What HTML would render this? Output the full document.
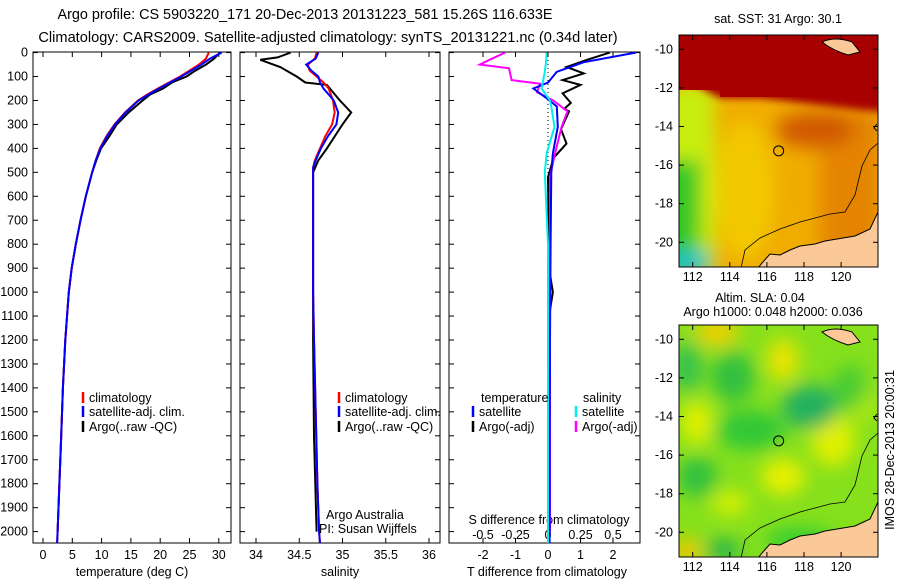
<!DOCTYPE html>
<html><head><meta charset="utf-8"><style>
body{margin:0;background:#fff;width:900px;height:580px;overflow:hidden}
svg{display:block;font-family:"Liberation Sans",sans-serif}
</style></head><body>
<svg id="c" width="900" height="580" viewBox="0 0 900 580">
<defs>
<filter id="bl" x="-50%" y="-50%" width="200%" height="200%"><feGaussianBlur stdDeviation="9"/></filter>
<filter id="bl2" x="-50%" y="-50%" width="200%" height="200%"><feGaussianBlur stdDeviation="4"/></filter>
<clipPath id="m1"><rect x="679" y="35" width="199" height="232"/></clipPath>
<clipPath id="m2"><rect x="679" y="325" width="199" height="232"/></clipPath>
<clipPath id="p1"><rect x="33" y="52" width="198" height="491"/></clipPath>
<clipPath id="p2"><rect x="240" y="52" width="200" height="491"/></clipPath>
<clipPath id="p3"><rect x="449" y="52" width="191" height="491"/></clipPath>
</defs>
<text x="305" y="19" font-size="14.4" text-anchor="middle">Argo profile: CS 5903220_171 20-Dec-2013 20131223_581 15.26S 116.633E</text>
<text x="328" y="42" font-size="14.6" text-anchor="middle">Climatology: CARS2009. Satellite-adjusted climatology: synTS_20131221.nc (0.34d later)</text>
<g id="g"></g>
</svg>
<script>
// ---- data ----
const tDepth=[0,25,50,75,100,125,150,175,200,250,300,350,400,450,500,600,700,800,900,1000,1200,1400,1600,1800,2000,2050];
const tClim=[28.3,27.8,26.6,25,23.4,21.5,19.6,17.8,16.2,14,12.2,10.8,9.7,9,8.4,7.3,6.4,5.6,4.9,4.4,3.8,3.4,3.1,2.8,2.5,2.4];
const tSat=[30.5,28.5,27,25.3,23.6,21.7,19.8,18,16.3,14.1,12.3,10.9,9.8,9,8.4,7.3,6.4,5.6,4.9,4.4,3.8,3.4,3.1,2.8,2.5,2.4];
const tArgo=[30.2,29.2,27.8,26,24.5,22,20.5,18.3,17,14.6,12.6,11.3,9.9,9.1,8.4,7.3,6.4,5.6,4.9,4.4,3.8,3.4,3.1,2.8,2.5];
const sDepth=[0,25,50,75,100,125,150,200,250,300,350,400,450,480,600,800,1000,1200,1500,1800,2000,2050];
const sClim=[34.7,34.68,34.6,34.62,34.7,34.78,34.84,34.89,34.91,34.88,34.8,34.74,34.68,34.66,34.66,34.66,34.66,34.67,34.69,34.71,34.73,34.74];
const sSat=[34.72,34.69,34.58,34.64,34.72,34.74,34.78,34.9,34.95,34.93,34.83,34.75,34.69,34.66,34.66,34.66,34.66,34.67,34.69,34.71,34.73,34.74];
const sArgoDepth=[0,20,30,60,100,125,135,200,250,300,400,450,500,800,1200,1600,2000];
const sArgo=[34.4,34.25,34.05,34.28,34.47,34.57,34.82,34.97,35.1,35.0,34.82,34.72,34.66,34.66,34.66,34.67,34.7];
const dDepth=[0,40,80,125,150,200,225,310,420,500,800,1200,1600,2000,2050];
const dTsat=[2.7,1.1,0.27,0,-0.45,0.05,0.27,0.3,0.15,0.1,0.08,0.06,0.05,0.05,0.05];
const dSsat=[-0.02,-0.03,-0.05,-0.08,-0.1,0.03,0.05,0.1,-0.02,-0.05,0,0,0,0,0];
const aDepth=[0,30,60,87,115,135,170,210,235,245,320,380,440,520,900,1000,1100,1500,2000];
const dTargo=[1.9,1.2,0.57,1.1,0.45,1.0,0.45,0.7,0.5,0.65,0.4,0.57,0.17,0,0.03,0.15,0.03,0.02,0.02];
const sDiffDepth=[0,30,50,65,115,130,165,200,245,310,430,520,1000,1500,2000];
const dSargo=[-0.66,-0.9,-1.05,-0.6,-0.56,-0.12,-0.17,0.08,0.3,0.21,0.1,0.03,0.03,0.03,0.03];
const depthTicks=[0,100,200,300,400,500,600,700,800,900,1000,1100,1200,1300,1400,1500,1600,1700,1800,1900,2000];
const tTicks=[0,5,10,15,20,25,30];
const sTicks=[34,34.5,35,35.5,36];
const dTTicks=[-2,-1,0,1,2];
const dSTicks=["-0.5","-0.25","0","0.25","0.5"];
const lonTicks=[112,114,116,118,120];
const latTicks=[-10,-12,-14,-16,-18,-20];
// ---- axes ----
const yD=d=>52.6+d*0.2395;
const xT=t=>43+5.86*t;
const xS=s=>256+86.5*(s-34);
const xDf=v=>548+32.5*v;
const xDs=v=>548+65*v;
const lonX=l=>692.7+18.55*(l-112);
const latY1=l=>49.3-19.3*(l+10);
const latY2=l=>339.3-19.3*(l+10);
const FS=12.5;
const NS='http://www.w3.org/2000/svg';
const G=document.getElementById('g');
function el(tag,attrs,parent){const e=document.createElementNS(NS,tag);for(const k in attrs)e.setAttribute(k,attrs[k]);(parent||G).appendChild(e);return e;}
function txt(x,y,s,anchor,size){const e=el('text',{x:x,y:y,'font-size':size||FS,'text-anchor':anchor||'middle'});e.textContent=s;return e;}
function line(xf,vals,depths,color,w,clip,name){
  const pts=vals.map((v,i)=>xf(v).toFixed(1)+','+yD(depths[i]).toFixed(1)).join(' ');
  const e=el('polyline',{points:pts,fill:'none',stroke:color,'stroke-width':w,'clip-path':'url(#'+clip+')'});
  
  
}
function frame(x0,x1,name){
  const r=el('rect',{x:x0,y:52,width:x1-x0,height:491,fill:'none',stroke:'#000','stroke-width':1});
  
  
  depthTicks.forEach(d=>{el('line',{x1:x0,x2:x0+5,y1:yD(d),y2:yD(d),stroke:'#000'});el('line',{x1:x1,x2:x1-5,y1:yD(d),y2:yD(d),stroke:'#000'});});
}
frame(33,231,'temperature-panel');frame(240,440,'salinity-panel');frame(449,640,'difference-panel');
depthTicks.forEach(d=>{const t=txt(28,yD(d)+4,String(d),'end');

});
tTicks.forEach(v=>{const x=xT(v);el('line',{x1:x,x2:x,y1:52,y2:57,stroke:'#000'});el('line',{x1:x,x2:x,y1:543,y2:538,stroke:'#000'});
const t=txt(x,559,String(v));

});
sTicks.forEach(v=>{const x=xS(v);el('line',{x1:x,x2:x,y1:52,y2:57,stroke:'#000'});el('line',{x1:x,x2:x,y1:543,y2:538,stroke:'#000'});
const t=txt(x,559,String(v));

});
dTTicks.forEach((v,i)=>{const x=xDf(v);el('line',{x1:x,x2:x,y1:52,y2:57,stroke:'#000'});el('line',{x1:x,x2:x,y1:543,y2:538,stroke:'#000'});
const t=txt(x,559,String(v));


const s=txt(x,539,dSTicks[i]);

});
el('line',{x1:xDf(0),x2:xDf(0),y1:52,y2:543,stroke:'#000','stroke-dasharray':'1,3'});
[[132,576,'temperature (deg C)','x-axis-title-temperature'],[340,576,'salinity','x-axis-title-salinity'],[547,576,'T difference from climatology','x-axis-title-t-difference'],[549,524,'S difference from climatology','x-axis-title-s-difference']].forEach(a=>{const t=txt(a[0],a[1],a[2]);

});
line(xT,tArgo,tDepth,'#000',2,'p1','temperature-argo-line');
line(xT,tClim,tDepth,'#f00',2,'p1','temperature-climatology-line');
line(xT,tSat,tDepth,'#00f',2,'p1','temperature-satellite-line');
line(xS,sArgo,sArgoDepth,'#000',2,'p2','salinity-argo-line');
line(xS,sClim,sDepth,'#f00',2,'p2','salinity-climatology-line');
line(xS,sSat,sDepth,'#00f',2,'p2','salinity-satellite-line');
line(xDf,dTargo,aDepth,'#000',2,'p3','t-difference-argo-line');
line(xDs,dSargo,sDiffDepth,'#f0f',2,'p3','s-difference-argo-line');
line(xDf,dTsat,dDepth,'#00f',2,'p3','t-difference-satellite-line');
line(xDs,dSsat,dDepth,'#0ee',2,'p3','s-difference-satellite-line');
function leg(x,y,c,s,name){el('line',{x1:x,x2:x,y1:y-10,y2:y+1,stroke:c,'stroke-width':2.5});const t=txt(x+6,y,s,'start');

}
leg(83,402,'#f00','climatology','legend-climatology');leg(83,416,'#00f','satellite-adj. clim.','legend-satellite');leg(83,431,'#000','Argo(..raw -QC)','legend-argo');
leg(339,402,'#f00','climatology','legend-climatology-2');leg(339,416,'#00f','satellite-adj. clim.','legend-satellite-2');leg(339,431,'#000','Argo(..raw -QC)','legend-argo-2');
{const t=txt(481,402,'temperature','start');


const u=txt(583,402,'salinity','start');

}
leg(473,416,'#00f','satellite','legend-t-satellite');leg(473,431,'#000','Argo(-adj)','legend-t-argo');
leg(576,416,'#0ee','satellite','legend-s-satellite');leg(576,431,'#f0f','Argo(-adj)','legend-s-argo');
{const a=txt(326,519,'Argo Australia','start');


const b=txt(319,533,'PI: Susan Wijffels','start');

}
// ---- maps ----
function mapAxes(y0,latY,name){
  const r=el('rect',{x:679,y:y0,width:199,height:232,fill:'none',stroke:'#000'});
  
  
  lonTicks.forEach(l=>{const x=lonX(l);el('line',{x1:x,x2:x,y1:y0,y2:y0+5,stroke:'#000'});el('line',{x1:x,x2:x,y1:y0+232,y2:y0+227,stroke:'#000'});
  const t=txt(x,y0+246,String(l),'middle');
  
  });
  latTicks.forEach(l=>{const y=latY(l);el('line',{x1:679,x2:684,y1:y,y2:y,stroke:'#000'});el('line',{x1:878,x2:873,y1:y,y2:y,stroke:'#000'});
  const t=txt(673,y+4,String(l),'end');
  
  });
}
function land(dy,clip){
  const g=el('g',{'clip-path':'url(#'+clip+')'});
  el('path',{d:`M878 ${212+dy} L870 ${229+dy} L855 ${236+dy} L825 ${241+dy} L815 ${244+dy} L800 ${246+dy} L790 ${250+dy} L780 ${255+dy} L770 ${254+dy} L762 ${263+dy} L758 ${268+dy} L880 ${268+dy}Z`,fill:'#fbc898',stroke:'#000','stroke-width':1},g);
  el('path',{d:`M822 ${42+dy} Q835 ${36+dy} 852 ${42+dy} L860 ${52+dy} L848 ${55+dy} Q832 ${50+dy} 822 ${42+dy}Z`,fill:'#fbc898',stroke:'#000'},g);
  el('polyline',{points:`741,${268+dy} 745,${250+dy} 760,${238+dy} 780,${229+dy} 800,${222+dy} 830,${214+dy} 845,${212+dy} 855,${195+dy} 862,${166+dy} 870,${150+dy} 878,${143+dy}`,fill:'none',stroke:'#000','stroke-width':0.8},g);
  el('path',{d:`M877 ${124+dy} L874 ${128+dy} L877 ${131+dy}`,fill:'none',stroke:'#000'},g);
}
{const g=el('g',{'clip-path':'url(#m1)'});


el('rect',{x:679,y:35,width:199,height:232,fill:'#f0ac00'},g);
const b=el('g',{filter:'url(#bl)'},g);
el('rect',{x:820,y:110,width:60,height:160,fill:'#e48400'},b);
el('ellipse',{cx:815,cy:130,rx:40,ry:18,fill:'#d05800'},b);
el('ellipse',{cx:745,cy:190,rx:30,ry:70,fill:'#f2c800'},b);
el('rect',{x:660,y:85,width:55,height:190,fill:'#c8ee10'},b);
el('rect',{x:655,y:160,width:45,height:120,fill:'#30c828'},b);
el('ellipse',{cx:690,cy:262,rx:22,ry:12,fill:'#20c0c8'},b);
const b2=el('g',{filter:'url(#bl2)'},g);
el('path',{d:'M670 30 L890 30 L890 112 L860 110 L820 105 L760 98 L720 98 L705 90 L690 80 L670 80Z',fill:'#a80000'},b2);
el('rect',{x:679,y:35,width:199,height:55,fill:'#a80000'},g);
el('rect',{x:720,y:35,width:160,height:62,fill:'#a80000'},g);}
land(0,'m1');
mapAxes(35,latY1,'sst-map-frame');
{const c=el('circle',{cx:lonX(116.633),cy:latY1(-15.26),r:5,fill:'none',stroke:'#000'});

}
{const t=txt(778,23,'sat. SST: 31 Argo: 30.1','middle');

}
{const g=el('g',{'clip-path':'url(#m2)'});


el('rect',{x:679,y:325,width:199,height:232,fill:'#86e01c'},g);
const b=el('g',{filter:'url(#bl)'},g);
[[717,332,22,14,'#f0d000'],[783,360,16,22,'#e8e400'],[697,423,16,22,'#e0f000'],[833,440,22,26,'#e0f000'],[783,477,22,18,'#e8f000'],[730,503,18,12,'#d8f000'],[687,552,14,14,'#f0c800'],[863,400,12,22,'#b8ec10'],[700,470,15,8,'#b0e820']].forEach(a=>el('ellipse',{cx:a[0],cy:a[1],rx:a[2],ry:a[3],fill:a[4]},b));
[[687,367,14,25,'#30c050'],[733,377,22,25,'#30c040'],[810,407,28,22,'#20b060'],[750,430,35,20,'#30c838'],[697,477,20,20,'#30c040'],[723,550,18,10,'#20b050'],[850,387,18,22,'#48cc30'],[800,540,35,12,'#30cc30']].forEach(a=>el('ellipse',{cx:a[0],cy:a[1],rx:a[2],ry:a[3],fill:a[4]},b));}
land(290,'m2');
mapAxes(325,latY2,'sla-map-frame');
{const c=el('circle',{cx:lonX(116.633),cy:latY2(-15.26),r:5,fill:'none',stroke:'#000'});

}
{const t=txt(760,302,'Altim. SLA: 0.04','middle');


const u=txt(773,316,'Argo h1000: 0.048 h2000: 0.036','middle');


const v=txt(0,0,'IMOS 28-Dec-2013 20:00:31','middle');
v.setAttribute('transform','translate(894,450) rotate(-90)');

}
</script>
</body></html>
